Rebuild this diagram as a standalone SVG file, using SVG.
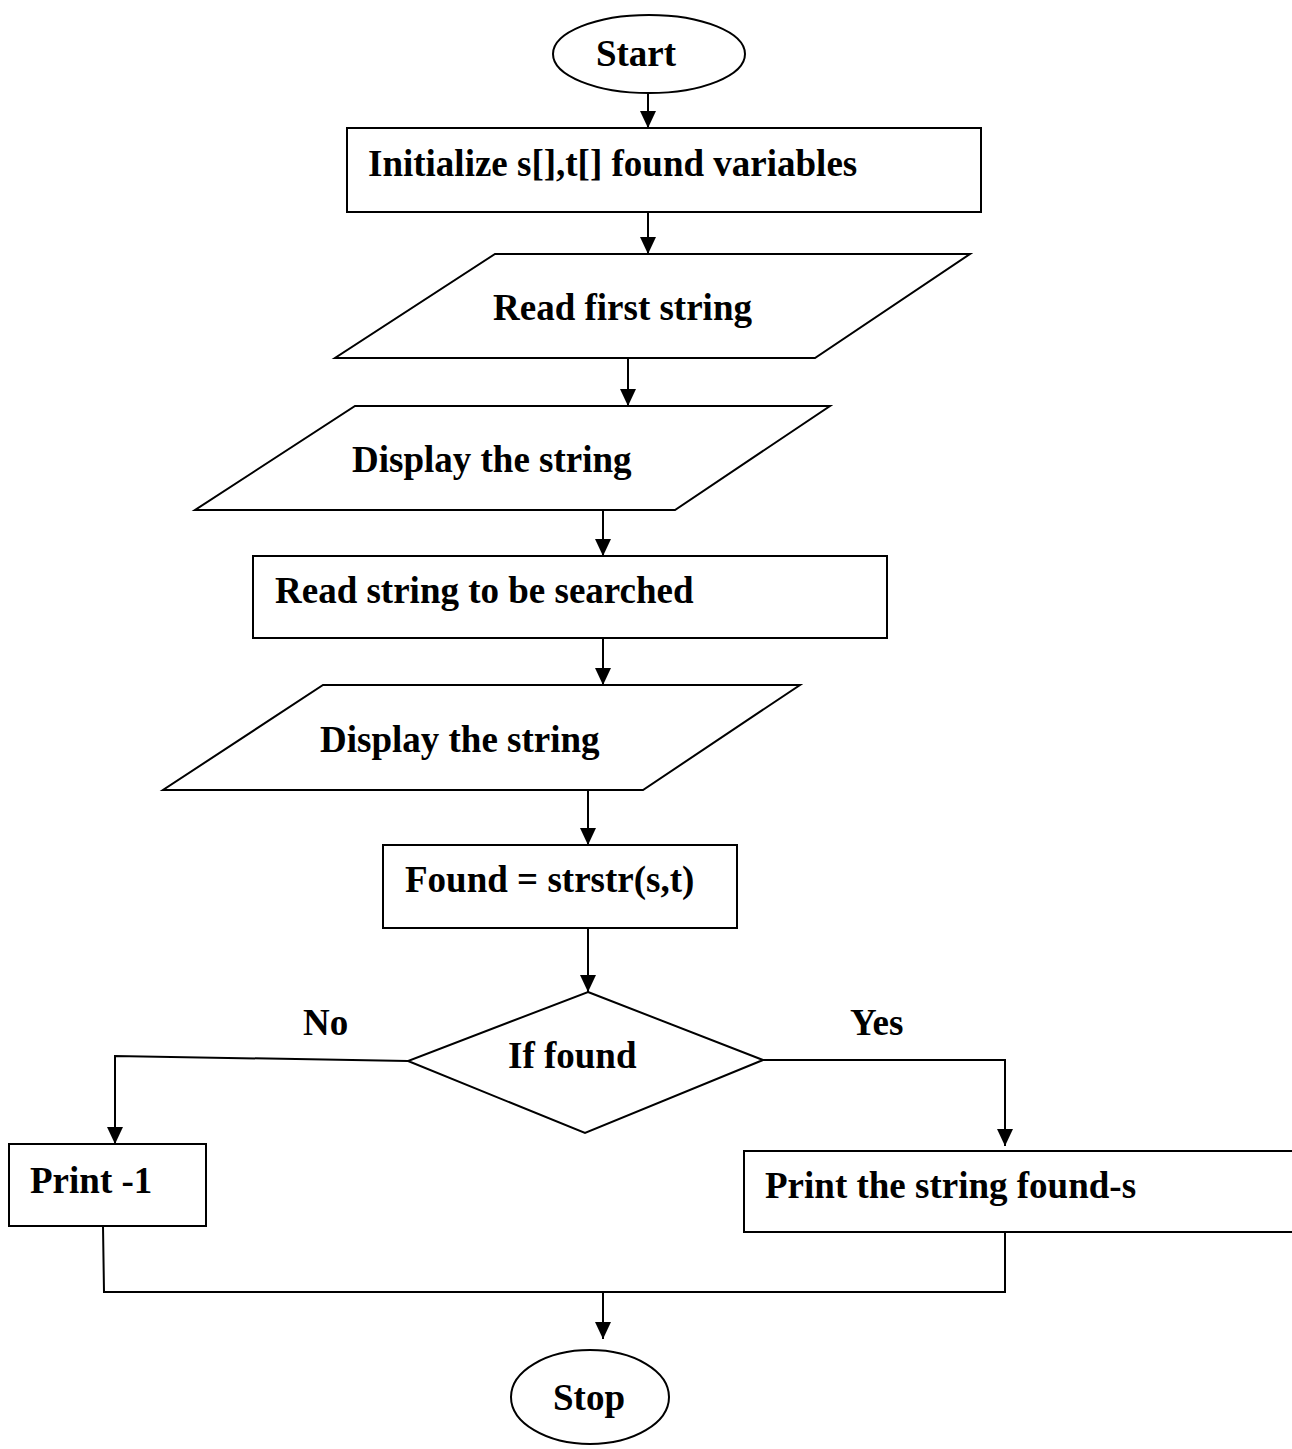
<svg xmlns="http://www.w3.org/2000/svg" width="1292" height="1449" viewBox="0 0 1292 1449">
  <style>
    .shape { fill: #ffffff; stroke: #000000; stroke-width: 2; }
    .wire { fill: none; stroke: #000000; stroke-width: 2; }
    .label { font-family: "Liberation Serif", "Times New Roman", serif; font-weight: bold; font-size: 37px; fill: #000000; }
  </style>
  <defs>
    <marker id="arrow" markerUnits="userSpaceOnUse" markerWidth="18" markerHeight="18" refX="17" refY="8" orient="auto">
      <path d="M0,0 L17,8 L0,16 Z" fill="#000000"/>
    </marker>
  </defs>

  <rect width="1292" height="1449" fill="#ffffff"/>

  <!-- connectors -->
  <g id="connectors">
    <line class="wire" x1="648" y1="93" x2="648" y2="128" marker-end="url(#arrow)"/>
    <line class="wire" x1="648" y1="212" x2="648" y2="254" marker-end="url(#arrow)"/>
    <line class="wire" x1="628" y1="358" x2="628" y2="406" marker-end="url(#arrow)"/>
    <line class="wire" x1="603" y1="510" x2="603" y2="556" marker-end="url(#arrow)"/>
    <line class="wire" x1="603" y1="638" x2="603" y2="685" marker-end="url(#arrow)"/>
    <line class="wire" x1="588" y1="790" x2="588" y2="845" marker-end="url(#arrow)"/>
    <line class="wire" x1="588" y1="928" x2="588" y2="992" marker-end="url(#arrow)"/>
    <!-- No branch -->
    <polyline class="wire" points="408,1061 115,1056 115,1144" marker-end="url(#arrow)"/>
    <!-- Yes branch -->
    <polyline class="wire" points="763,1060 1005,1060 1005,1146" marker-end="url(#arrow)"/>
    <!-- merge to Stop -->
    <polyline class="wire" points="103,1226 104,1292 1005,1292 1005,1220"/>
    <line class="wire" x1="603" y1="1292" x2="603" y2="1339" marker-end="url(#arrow)"/>
  </g>

  <g id="start">
    <ellipse class="shape" cx="649" cy="54" rx="96" ry="39"/>
    <text class="label" x="636" y="66" text-anchor="middle">Start</text>
  </g>

  <g id="init">
    <rect class="shape" x="347" y="128" width="634" height="84"/>
    <text class="label" x="368" y="176">Initialize s[],t[] found variables</text>
  </g>

  <g id="read-first">
    <polygon class="shape" points="495,254 970,254 815,358 335,358"/>
    <text class="label" x="493" y="320">Read first string</text>
  </g>

  <g id="display-first">
    <polygon class="shape" points="355,406 830,406 675,510 195,510"/>
    <text class="label" x="352" y="472">Display the string</text>
  </g>

  <g id="read-search">
    <rect class="shape" x="253" y="556" width="634" height="82"/>
    <text class="label" x="275" y="603">Read string to be searched</text>
  </g>

  <g id="display-search">
    <polygon class="shape" points="323,685 800,685 643,790 163,790"/>
    <text class="label" x="320" y="752">Display the string</text>
  </g>

  <g id="strstr">
    <rect class="shape" x="383" y="845" width="354" height="83"/>
    <text class="label" x="405" y="892">Found = strstr(s,t)</text>
  </g>

  <g id="decision">
    <polygon class="shape" points="588,992 763,1060 585,1133 408,1061"/>
    <text class="label" x="508" y="1068">If found</text>
    <text class="label" x="303" y="1035">No</text>
    <text class="label" x="850" y="1035">Yes</text>
  </g>

  <g id="print-minus-one">
    <rect class="shape" x="9" y="1144" width="197" height="82"/>
    <text class="label" x="30" y="1193">Print -1</text>
  </g>

  <g id="print-found">
    <rect class="shape" x="744" y="1151" width="560" height="81"/>
    <text class="label" x="765" y="1198">Print the string found-s</text>
  </g>

  <g id="stop">
    <ellipse class="shape" cx="590" cy="1397" rx="79" ry="47"/>
    <text class="label" x="589" y="1410" text-anchor="middle">Stop</text>
  </g>
</svg>
